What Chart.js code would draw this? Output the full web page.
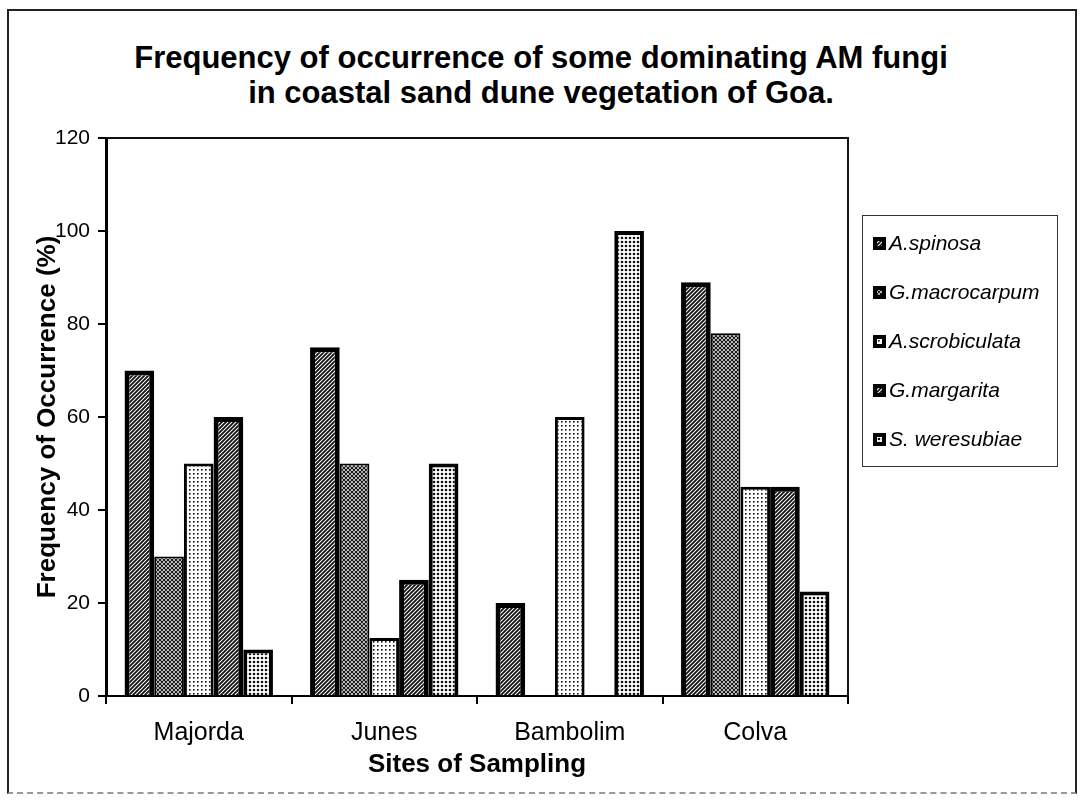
<!DOCTYPE html>
<html>
<head>
<meta charset="utf-8">
<script src="https://cdn.jsdelivr.net/npm/chart.js@4"></script>
<style>
  body { margin: 0; background: #fff; font-family: Arial, "Liberation Sans", sans-serif; }
  #wrap { position: relative; width: 1082px; height: 802px; }
  #frame { position: absolute; left: 7px; top: 9px; width: 1066px; height: 781px;
           border: 2px solid #222; border-bottom: 2px dashed #999; }
  #title { position: absolute; left: 0; top: 40px; width: 1082px; text-align: center;
           font-weight: bold; font-size: 31px; line-height: 35px; color: #000; }
  #legend { position: absolute; left: 862px; top: 215px; width: 194px; height: 250px;
            border: 1px solid #333; }
  .item { position: absolute; left: 10px; height: 24px; display: flex; align-items: center;
          font-style: italic; font-size: 21px; color: #000; }
  .item canvas { margin-right: 3px; }
  canvas#chart { position: absolute; left: 0; top: 0; }
</style>
</head>
<body>
<div id="wrap">
  <div id="frame"></div>
  <div id="title">Frequency of occurrence of some dominating AM fungi<br>in coastal sand dune vegetation of Goa.</div>
  <canvas id="chart" width="1082" height="802"></canvas>
  <div id="legend"></div>
</div>
<script>
// data
const sites = ['Majorda', 'Junes', 'Bambolim', 'Colva']
const speciesNames = ['A.spinosa', 'G.macrocarpum', 'A.scrobiculata', 'G.margarita', 'S. weresubiae']
const aSpinosa = [70, 75, 20, 89]
const gMacrocarpum = [30, 50, 0, 78]
const aScrobiculata = [50, 12.5, 60, 45]
const gMargarita = [60, 25, 0, 45]
const sWeresubiae = [10, 50, 100, 22.5]
const yTicks = [0, 20, 40, 60, 80, 100, 120]

// grey scan-like fills
const makePattern = (kind) => {
    const c = document.createElement('canvas')
    c.width = 4; c.height = 4
    const g = c.getContext('2d')
    g.fillStyle = '#fff'
    g.fillRect(0, 0, 4, 4)
    g.strokeStyle = '#111'
    g.fillStyle = '#111'
    if (kind === 'hatch' || kind === 'cross') {
        g.lineWidth = kind === 'cross' ? 1.2 : 1.8
        g.beginPath()
        g.moveTo(-1, 5); g.lineTo(5, -1)
        g.moveTo(-1, 1); g.lineTo(1, -1)
        g.moveTo(3, 5); g.lineTo(5, 3)
        if (kind === 'cross') {
            g.moveTo(-1, -1); g.lineTo(5, 5)
            g.moveTo(3, -1); g.lineTo(5, 1)
            g.moveTo(-1, 3); g.lineTo(1, 5)
        }
        g.stroke()
    } else if (kind === 'dots') {
        g.fillRect(1, 1, 1.6, 1.6)
    } else {
        g.beginPath(); g.arc(2, 2, 1.3, 0, Math.PI * 2); g.fill()
    }
    return g.createPattern(c, 'repeat')
}

const fills = [makePattern('hatch'), makePattern('cross'), makePattern('dots'), makePattern('hatch'), makePattern('dots2')]
const borders = [5, 2, 3, 5, 4]
const seriesData = [aSpinosa, gMacrocarpum, aScrobiculata, gMargarita, sWeresubiae]

const plotBox = {
    id: 'plotBox',
    afterDraw(chart) {
        const a = chart.chartArea
        const ctx = chart.ctx
        ctx.save()
        ctx.strokeStyle = '#111'
        ctx.lineWidth = 2
        ctx.beginPath()
        ctx.moveTo(a.left, a.top); ctx.lineTo(a.right, a.top); ctx.lineTo(a.right, a.bottom)
        ctx.stroke()
        ctx.restore()
    }
}

const ctx = document.getElementById('chart')
const freqChart = new Chart(ctx, {
    type: 'bar',
    data: {
        labels: sites,
        datasets: speciesNames.map((name, i) => ({
            label: name,
            data: seriesData[i],
            backgroundColor: fills[i],
            borderColor: '#000',
            borderWidth: borders[i],
            categoryPercentage: 0.8,
            barPercentage: 1.0
        }))
    },
    options: {
        responsive: false,
        animation: false,
        layout: { padding: { left: 20, right: 234, top: 138, bottom: 20 } },
        plugins: { legend: { display: false }, title: { display: false }, tooltip: { enabled: false } },
        scales: {
            x: {
                afterFit: (s) => { s.height = 86 },
                grid: { offset: true, drawOnChartArea: false, color: '#000', tickLength: 8, lineWidth: 2 },
                border: { color: '#000', width: 2 },
                ticks: { color: '#000', padding: 14, font: { family: 'Arial, "Liberation Sans"', size: 25 } },
                title: { display: true, text: 'Sites of Sampling', color: '#000', padding: { top: 0, bottom: 2 },
                         font: { family: 'Arial, "Liberation Sans"', size: 26, weight: 'bold' } }
            },
            y: {
                min: 0, max: 120,
                afterFit: (s) => { s.width = 86 },
                afterBuildTicks: (s) => { s.ticks = yTicks.map(v => ({ value: v })) },
                grid: { drawOnChartArea: false, color: '#000', tickLength: 8, lineWidth: 2 },
                border: { color: '#000', width: 3 },
                ticks: { color: '#000', padding: 8, font: { family: 'Arial, "Liberation Sans"', size: 21 } },
                title: { display: true, text: 'Frequency of Occurrence (%)', color: '#000', padding: { top: 12, bottom: 0 },
                         font: { family: 'Arial, "Liberation Sans"', size: 26, weight: 'bold' } }
            }
        }
    },
    plugins: [plotBox]
})

// legend built from the same series
const legend = document.getElementById('legend')
const itemTops = [15, 64, 113, 162, 211]
speciesNames.forEach((name, i) => {
    const div = document.createElement('div')
    div.className = 'item'
    div.style.top = itemTops[i] + 'px'
    const sw = document.createElement('canvas')
    sw.width = 13; sw.height = 13
    const g = sw.getContext('2d')
    g.fillStyle = '#000'
    g.fillRect(0, 0, 13, 13)
    g.fillStyle = fills[i]
    g.fillRect(4, 4, 5, 5)
    div.appendChild(sw)
    div.appendChild(document.createTextNode(name))
    legend.appendChild(div)
})
</script>
</body>
</html>
